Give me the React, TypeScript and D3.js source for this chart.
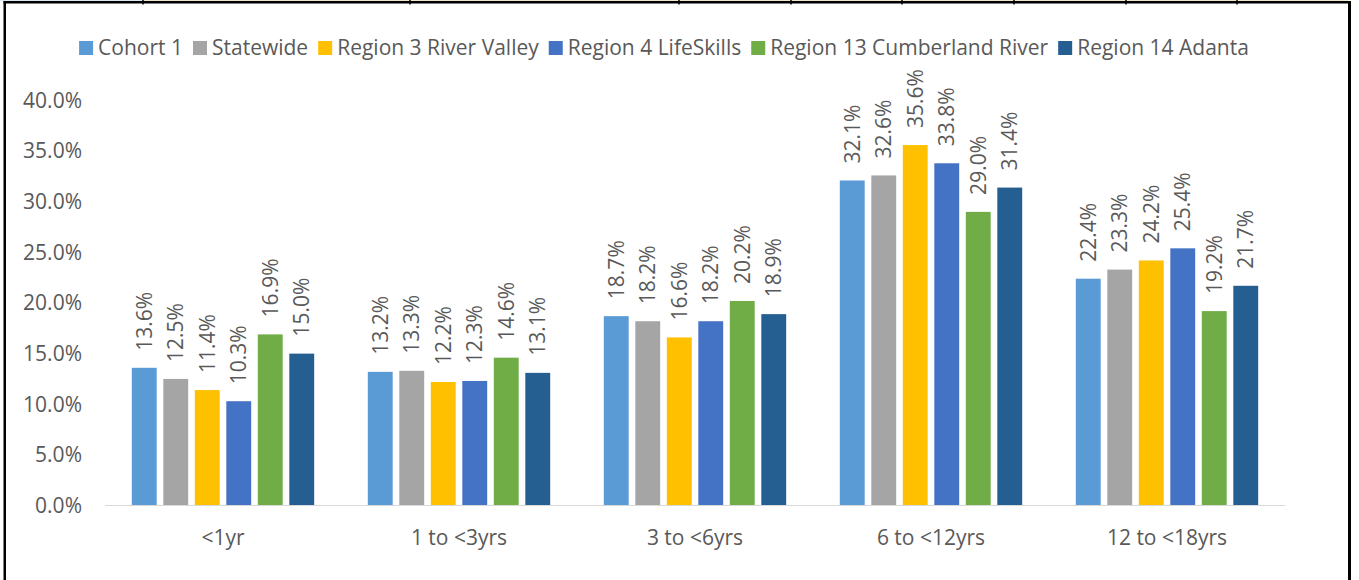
import { useEffect, useRef } from 'react'
import * as d3 from 'd3'

// Chart data
const categories = ['<1yr', '1 to <3yrs', '3 to <6yrs', '6 to <12yrs', '12 to <18yrs']
const seriesNames = [
  'Cohort 1',
  'Statewide',
  'Region 3 River Valley',
  'Region 4 LifeSkills',
  'Region 13 Cumberland River',
  'Region 14 Adanta',
]
const seriesColors = ['#5B9BD5', '#A5A5A5', '#FFC000', '#4472C4', '#70AD47', '#255E91']
const cohort1 = [13.6, 13.2, 18.7, 32.1, 22.4]
const statewide = [12.5, 13.3, 18.2, 32.6, 23.3]
const region3 = [11.4, 12.2, 16.6, 35.6, 24.2]
const region4 = [10.3, 12.3, 18.2, 33.8, 25.4]
const region13 = [16.9, 14.6, 20.2, 29.0, 19.2]
const region14 = [15.0, 13.1, 18.9, 31.4, 21.7]
const seriesValues = [cohort1, statewide, region3, region4, region13, region14]
const yTicks = [0, 5, 10, 15, 20, 25, 30, 35, 40]

const WIDTH = 1359
const HEIGHT = 580
const FONT = "'Open Sans', 'Noto Sans', sans-serif"
const FONT_SIZE = '21px'
const TEXT_COLOR = '#595959'

const App = () => {
  const svgRef = useRef<SVGSVGElement | null>(null)

  useEffect(() => {
    const svgEl = d3.select(svgRef.current)
    svgEl.selectAll('*').remove()

    // Scales
    const x0 = d3.scaleBand<string>().domain(categories).range([105, 1285]).padding(0)
    const x1 = d3
      .scaleBand<number>()
      .domain(d3.range(seriesNames.length))
      .range([23.5, x0.bandwidth() - 23.5])
      .paddingInner(0.21)
      .paddingOuter(0.105)
    const y = d3.scaleLinear().domain([0, 40]).range([505.5, 100.5])

    // White background
    svgEl.append('rect').attr('width', WIDTH).attr('height', HEIGHT).attr('fill', '#fff')

    // Frame (cut table borders around the chart)
    svgEl.append('rect').attr('x', 0).attr('y', 0).attr('width', 143).attr('height', 1.2).attr('fill', '#DDE8F4')
    svgEl.append('rect').attr('x', 143).attr('y', 0).attr('width', 1205).attr('height', 1.2).attr('fill', '#F3E7CB')
    svgEl.append('rect').attr('x', 3.5).attr('y', 1).attr('width', 1347.5).attr('height', 2.5).attr('fill', '#000')
    svgEl.append('rect').attr('x', 3.5).attr('y', 1).attr('width', 2.5).attr('height', HEIGHT).attr('fill', '#000')
    svgEl.append('rect').attr('x', 1348).attr('y', 1).attr('width', 3).attr('height', HEIGHT).attr('fill', '#000')
    const frameTicks = [143, 410, 679, 791, 902, 1014, 1126, 1237]
    svgEl
      .selectAll('.frame-tick')
      .data(frameTicks)
      .enter()
      .append('rect')
      .attr('x', (d) => d - 0.75)
      .attr('y', 0)
      .attr('width', 1.5)
      .attr('height', 4.5)
      .attr('fill', '#000')

    // Legend
    const legend = svgEl.append('g')
    let lx = 0
    seriesNames.forEach((name, i) => {
      legend
        .append('rect')
        .attr('x', lx)
        .attr('y', 41)
        .attr('width', 14)
        .attr('height', 14)
        .attr('fill', seriesColors[i])
      const t = legend
        .append('text')
        .attr('x', lx + 19)
        .attr('y', 48)
        .attr('dy', '0.35em')
        .style('font-family', FONT)
        .style('font-size', FONT_SIZE)
        .style('fill', TEXT_COLOR)
        .text(name)
      const w = (t.node() as SVGTextElement).getComputedTextLength()
      lx += 19 + w + 10
    })
    const legendWidth = lx - 10
    legend.attr('transform', `translate(${664 - legendWidth / 2},0)`)

    // Y axis labels
    svgEl
      .selectAll('.y-label')
      .data(yTicks)
      .enter()
      .append('text')
      .attr('x', 82)
      .attr('y', (d) => y(d))
      .attr('dy', '0.35em')
      .attr('text-anchor', 'end')
      .style('font-family', FONT)
      .style('font-size', FONT_SIZE)
      .style('fill', TEXT_COLOR)
      .text((d) => d.toFixed(1) + '%')

    // Bars
    const groups = svgEl
      .selectAll('.group')
      .data(categories)
      .enter()
      .append('g')
      .attr('transform', (d) => `translate(${x0(d)},0)`)
    groups
      .selectAll('rect')
      .data((_, ci) => seriesValues.map((vals, si) => ({ si, v: vals[ci] })))
      .enter()
      .append('rect')
      .attr('x', (d) => x1(d.si) as number)
      .attr('y', (d) => y(d.v))
      .attr('width', x1.bandwidth())
      .attr('height', (d) => y(0) - y(d.v))
      .attr('fill', (d) => seriesColors[d.si])

    // Rotated data labels
    groups
      .selectAll('.value')
      .data((_, ci) => seriesValues.map((vals, si) => ({ si, v: vals[ci] })))
      .enter()
      .append('text')
      .attr('transform', (d) => {
        const cx = (x1(d.si) as number) + x1.bandwidth() / 2
        return `translate(${cx},${y(d.v) - 17}) rotate(-90)`
      })
      .attr('dy', '0.35em')
      .style('font-family', FONT)
      .style('font-size', FONT_SIZE)
      .style('fill', TEXT_COLOR)
      .text((d) => d.v.toFixed(1) + '%')

    // X axis line and labels
    svgEl
      .append('line')
      .attr('x1', 105)
      .attr('x2', 1285)
      .attr('y1', y(0))
      .attr('y2', y(0))
      .attr('stroke', '#D9D9D9')
      .attr('stroke-width', 1.2)
    svgEl
      .selectAll('.x-label')
      .data(categories)
      .enter()
      .append('text')
      .attr('x', (d) => (x0(d) as number) + x0.bandwidth() / 2)
      .attr('y', 538)
      .attr('dy', '0.35em')
      .attr('text-anchor', 'middle')
      .style('font-family', FONT)
      .style('font-size', FONT_SIZE)
      .style('fill', TEXT_COLOR)
      .text((d) => d)
  }, [])

  return (
    <svg
      ref={svgRef}
      width={WIDTH}
      height={HEIGHT}
      style={{ position: 'absolute', left: 0, top: 0, display: 'block' }}
    />
  )
}

export default App
